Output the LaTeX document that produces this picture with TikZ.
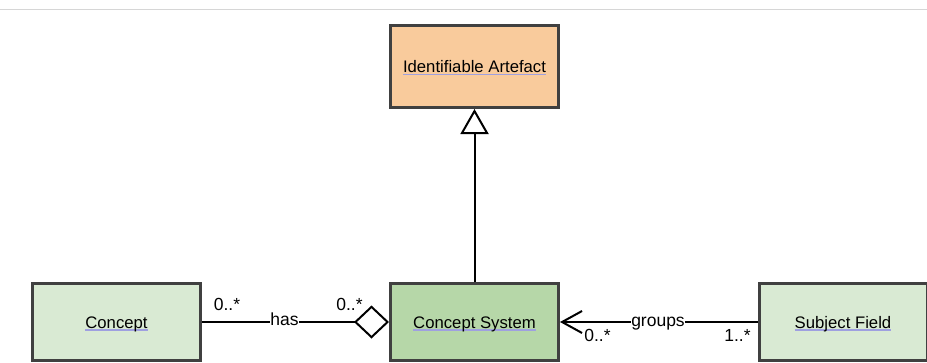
\documentclass[tikz,border=0pt]{standalone}
\usepackage{fontspec}
\setmainfont{Liberation Sans}
\usetikzlibrary{arrows.meta}
\definecolor{peach}{HTML}{F9CB9C}
\definecolor{lgreen}{HTML}{D9EAD3}
\definecolor{mgreen}{HTML}{B6D7A8}
\definecolor{bord}{HTML}{404040}
\definecolor{ulc}{HTML}{9FA0E0}
\definecolor{topline}{HTML}{D6D6D6}
\newcommand\ulx[1]{\setbox0\hbox{#1}\rlap{\color{ulc}\rule[-2.6pt]{\wd0}{1.4pt}}\box0}
\tikzset{
  cls/.style={draw=bord, line width=3pt, minimum width=168pt, inner sep=0pt,
    text height=12.5pt, text depth=0pt, font=\fontsize{16.7}{20}\selectfont},
  lbl/.style={font=\fontsize{17.5}{20}\selectfont, inner sep=0pt, anchor=base},
  conn/.style={line width=2pt, draw=black},
}
\begin{document}
\begin{tikzpicture}[x=1pt,y=-1pt]
\useasboundingbox (0,0) rectangle (927,362);
\clip (0,0) rectangle (927,362);
\coordinate (tl) at (0,9.3);
\coordinate (tr) at (927,9.3);
\draw[topline, line width=1pt] (tl) -- (tr);
\coordinate (ly) at (0,322);
\node[cls, fill=peach, minimum height=82pt] (ia) at (474.5,66.5) {\ulx{Identifiable Artefact}};
\node[cls, fill=lgreen, minimum height=77pt] (c) at (116.5,322) {\ulx{Concept}};
\node[cls, fill=mgreen, minimum height=77pt] (cs) at (474.5,322) {\ulx{Concept System}};
\node[cls, fill=lgreen, minimum height=77pt] (sf) at (843,322) {\ulx{Subject Field}};
% generalization
\draw[conn, -{Triangle[open, length=25pt, width=28pt, fill=white]}] (cs.north) -- (ia.south);
% has (aggregation)
\draw[conn, -{Diamond[open, length=35pt, width=33pt, fill=white]}] (c.east |- ly) -- (cs.west |- ly);
\node[lbl, fill=white, inner xsep=0.5pt] (has) at (284.5,325.7) {has};
\node[lbl] (m1) at (227,310.5) {0..*};
\node[lbl] (m2) at (349.5,310.5) {0..*};
% groups
\draw[conn, -{Straight Barb[length=20pt, width=22pt]}] (sf.west |- ly) -- (cs.east |- ly);
\node[lbl, fill=white, inner xsep=0.5pt] (gr) at (658,326) {groups};
\node[lbl] (m3) at (597.5,341) {0..*};
\node[lbl] (m4) at (737.5,341) {1..*};
\end{tikzpicture}
\end{document}
